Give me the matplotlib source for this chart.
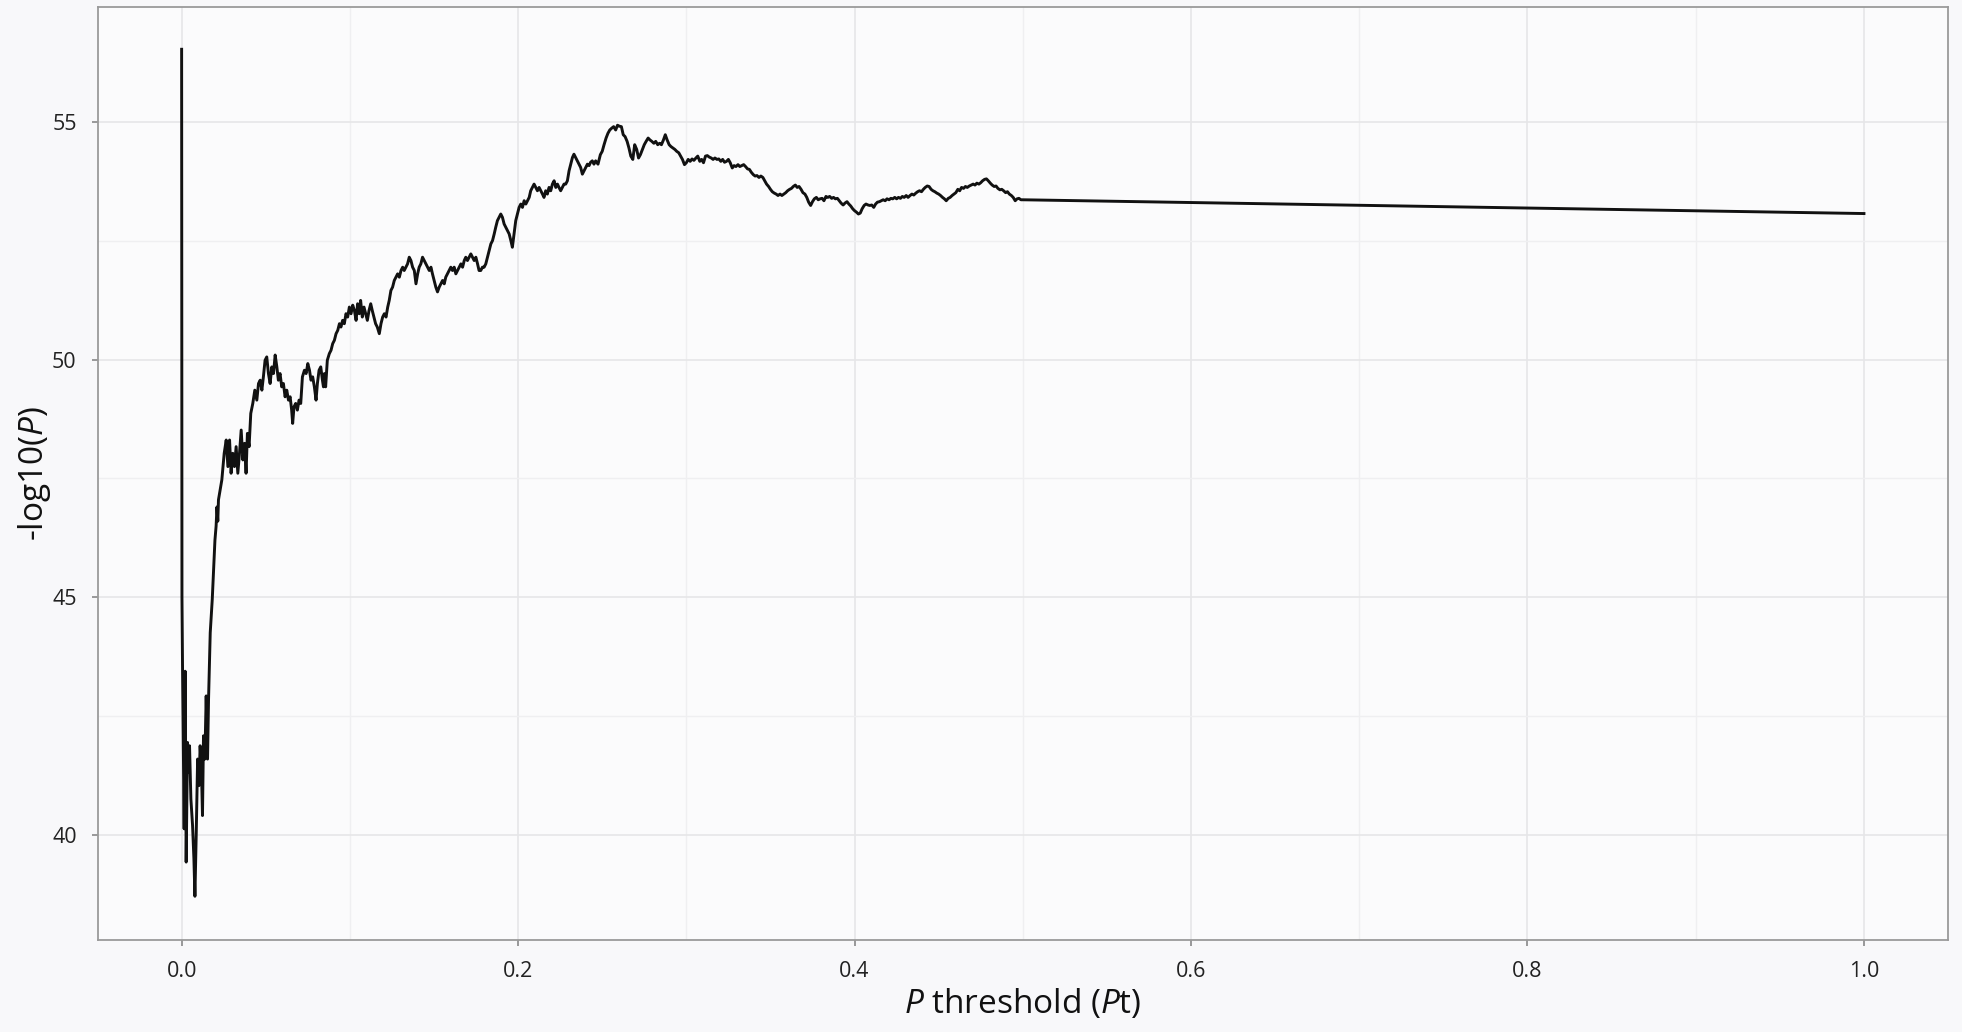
import matplotlib
matplotlib.use("Agg")
import matplotlib.pyplot as plt
import numpy as np

# P threshold (Pt) vs -log10(P)
# steep drop right after Pt = 0
pt_drop = [0.0, 0.0001, 0.0002, 0.00055, 0.0015, 0.0021, 0.0027, 0.0035, 0.0041,
           0.0047, 0.0055, 0.0065, 0.0073, 0.0079, 0.0087, 0.0095, 0.0103, 0.0110,
           0.0118, 0.0124, 0.0130, 0.0138, 0.0146, 0.0154, 0.0160, 0.0170, 0.0182,
           0.0190, 0.0198, 0.0205, 0.0210, 0.0215]
logp_drop = [56.54, 48.5, 45.0, 43.48, 40.12, 43.44, 39.42, 41.94, 41.31,
             41.87, 40.75, 40.19, 39.49, 38.70, 40.05, 41.59, 41.03, 41.87,
             41.31, 40.40, 42.08, 41.59, 42.92, 41.59, 42.85, 44.25, 44.95,
             45.6, 46.2, 46.5, 46.9, 46.6]

# recovery up to the first peak
pt_rise = [0.0219, 0.0239, 0.0253, 0.0265, 0.0275, 0.0285, 0.0294, 0.0304, 0.0314, 0.0324,
           0.0334, 0.0344, 0.0354, 0.0364, 0.0374, 0.0383, 0.0391, 0.0401, 0.0411, 0.0423,
           0.0435, 0.0447, 0.0457, 0.0467, 0.0477, 0.0486, 0.0496, 0.0506, 0.0516, 0.0526,
           0.0536, 0.0546, 0.0556, 0.0566, 0.0575, 0.0585, 0.0595, 0.0605, 0.0615, 0.0625,
           0.0635, 0.0645, 0.0654, 0.0660, 0.0668, 0.0678, 0.0688, 0.0698, 0.0708, 0.0718,
           0.0730, 0.0740, 0.0750, 0.0760, 0.0769, 0.0779, 0.0789, 0.0799, 0.0807, 0.0817,
           0.0827, 0.0837, 0.0843, 0.0849, 0.0856, 0.0866, 0.0878, 0.0888, 0.0898, 0.0908,
           0.0918, 0.0928, 0.0938, 0.0947, 0.0957, 0.0967, 0.0977, 0.0987, 0.0997, 0.1007,
           0.1017, 0.1027, 0.1037, 0.1046, 0.1056, 0.1064, 0.1074, 0.1084, 0.1094, 0.1104,
           0.1114, 0.1124, 0.1133, 0.1143, 0.1153, 0.1163, 0.1175, 0.1185, 0.1195, 0.1205,
           0.1215, 0.1225, 0.1234, 0.1244, 0.1254, 0.1264, 0.1274, 0.1284, 0.1294, 0.1304,
           0.1314, 0.1323, 0.1333, 0.1343, 0.1353, 0.1363, 0.1373, 0.1383, 0.1393, 0.1403,
           0.1412, 0.1422, 0.1432, 0.1442, 0.1452, 0.1462, 0.1472, 0.1482, 0.1491, 0.1501,
           0.1511, 0.1521, 0.1531, 0.1541, 0.1551, 0.1561, 0.1570, 0.1580, 0.1590, 0.1600,
           0.1610, 0.1620, 0.1630, 0.1640, 0.1650, 0.1660, 0.1670, 0.1680, 0.1689, 0.1699,
           0.1709, 0.1719, 0.1729, 0.1739, 0.1749, 0.1759, 0.1768, 0.1778, 0.1788, 0.1798,
           0.1808, 0.1818, 0.1828, 0.1838, 0.1848, 0.1858, 0.1867, 0.1877, 0.1887, 0.1897,
           0.1907, 0.1917, 0.1927, 0.1937, 0.1947, 0.1957, 0.1966, 0.1976, 0.1986, 0.1996,
           0.2006, 0.2016, 0.2026, 0.2036, 0.2046, 0.2056, 0.2066, 0.2075, 0.2085, 0.2095,
           0.2105, 0.2115, 0.2125, 0.2135, 0.2145, 0.2154, 0.2164, 0.2174, 0.2184, 0.2194,
           0.2204, 0.2214, 0.2224, 0.2234, 0.2243, 0.2253, 0.2263, 0.2273, 0.2283, 0.2293,
           0.2303, 0.2313, 0.2323, 0.2332, 0.2342, 0.2352, 0.2362, 0.2372, 0.2382, 0.2392,
           0.2402, 0.2412, 0.2422, 0.2431, 0.2441, 0.2451, 0.2461, 0.2475]
logp_rise = [47.05, 47.47, 48.03, 48.31, 47.75, 48.31, 47.61, 48.03, 47.75, 48.17,
             47.61, 48.03, 48.52, 47.89, 48.24, 47.61, 48.45, 48.17, 48.87, 49.08,
             49.36, 49.15, 49.50, 49.57, 49.36, 49.64, 49.99, 50.06, 49.71, 49.50,
             49.85, 49.71, 50.10, 49.85, 49.57, 49.71, 49.43, 49.50, 49.22, 49.36,
             49.15, 49.22, 48.94, 48.66, 49.01, 49.08, 48.94, 49.15, 49.08, 49.64,
             49.78, 49.71, 49.92, 49.78, 49.57, 49.64, 49.43, 49.15, 49.50, 49.78,
             49.85, 49.57, 49.43, 49.71, 49.43, 49.99, 50.13, 50.20, 50.34, 50.41,
             50.55, 50.62, 50.76, 50.69, 50.83, 50.76, 50.97, 50.90, 51.11, 50.97,
             51.15, 51.04, 50.83, 51.18, 50.97, 51.25, 50.90, 51.11, 50.97, 50.83,
             51.04, 51.18, 51.04, 50.90, 50.76, 50.69, 50.55, 50.76, 50.90, 50.97,
             50.90, 51.11, 51.25, 51.46, 51.53, 51.67, 51.74, 51.81, 51.74, 51.88,
             51.95, 51.88, 51.95, 52.02, 52.16, 52.09, 51.95, 51.88, 51.60, 51.81,
             51.95, 52.02, 52.16, 52.09, 52.02, 51.95, 51.88, 51.95, 51.81, 51.67,
             51.53, 51.43, 51.53, 51.60, 51.67, 51.60, 51.74, 51.81, 51.88, 51.95,
             51.88, 51.95, 51.81, 51.88, 51.95, 52.02, 51.95, 52.09, 52.16, 52.09,
             52.16, 52.23, 52.16, 52.09, 52.16, 52.02, 51.88, 51.88, 51.95, 51.95,
             52.02, 52.16, 52.30, 52.44, 52.51, 52.65, 52.79, 52.93, 53.00, 53.07,
             53.00, 52.86, 52.79, 52.72, 52.65, 52.51, 52.37, 52.65, 52.93, 53.07,
             53.21, 53.28, 53.21, 53.35, 53.28, 53.35, 53.42, 53.56, 53.63, 53.70,
             53.63, 53.56, 53.63, 53.56, 53.49, 53.42, 53.56, 53.49, 53.63, 53.56,
             53.70, 53.77, 53.63, 53.70, 53.63, 53.56, 53.63, 53.70, 53.70, 53.77,
             53.98, 54.12, 54.26, 54.33, 54.26, 54.19, 54.12, 54.05, 53.91, 53.98,
             54.05, 54.12, 54.09, 54.16, 54.19, 54.12, 54.19, 54.12]

# maximum and slow decline until Pt = 0.5
pt_peak = [0.2489, 0.2500, 0.2511, 0.2523, 0.2534, 0.2545, 0.2557, 0.2568, 0.2580, 0.2591,
           0.2602, 0.2614, 0.2625, 0.2636, 0.2648, 0.2659, 0.2670, 0.2682, 0.2693, 0.2705,
           0.2716, 0.2727, 0.2739, 0.2750, 0.2761, 0.2773, 0.2784, 0.2795, 0.2807, 0.2818,
           0.2830, 0.2841, 0.2852, 0.2864, 0.2875, 0.2886, 0.2898, 0.2909, 0.2920, 0.2932,
           0.2943, 0.2955, 0.2966, 0.2977, 0.2989, 0.3000, 0.3011, 0.3023, 0.3034, 0.3045,
           0.3057, 0.3068, 0.3080, 0.3091, 0.3102, 0.3114, 0.3125, 0.3136, 0.3148, 0.3159,
           0.3170, 0.3182, 0.3193, 0.3205, 0.3216, 0.3227, 0.3239, 0.3250, 0.3261, 0.3273,
           0.3284, 0.3295, 0.3307, 0.3318, 0.3330, 0.3341, 0.3352, 0.3364, 0.3375, 0.3386,
           0.3398, 0.3409, 0.3420, 0.3432, 0.3443, 0.3455, 0.3466, 0.3477, 0.3489, 0.3500,
           0.3511, 0.3523, 0.3534, 0.3545, 0.3557, 0.3568, 0.3580, 0.3591, 0.3602, 0.3614,
           0.3625, 0.3636, 0.3648, 0.3659, 0.3670, 0.3682, 0.3693, 0.3705, 0.3716, 0.3727,
           0.3739, 0.3750, 0.3761, 0.3773, 0.3784, 0.3795, 0.3807, 0.3818, 0.3830, 0.3841,
           0.3852, 0.3864, 0.3875, 0.3886, 0.3898, 0.3909, 0.3920, 0.3932, 0.3943, 0.3955,
           0.3966, 0.3977, 0.3989, 0.4000, 0.4011, 0.4023, 0.4034, 0.4045, 0.4057, 0.4068,
           0.4080, 0.4091, 0.4102, 0.4114, 0.4125, 0.4136, 0.4148, 0.4159, 0.4170, 0.4182,
           0.4193, 0.4205, 0.4216, 0.4227, 0.4239, 0.4250, 0.4261, 0.4273, 0.4284, 0.4295,
           0.4307, 0.4318, 0.4330, 0.4341, 0.4352, 0.4364, 0.4375, 0.4386, 0.4398, 0.4409,
           0.4420, 0.4432, 0.4443, 0.4455, 0.4466, 0.4477, 0.4489, 0.4500, 0.4511, 0.4523,
           0.4534, 0.4545, 0.4557, 0.4568, 0.4580, 0.4591, 0.4602, 0.4614, 0.4625, 0.4636,
           0.4648, 0.4659, 0.4670, 0.4682, 0.4693, 0.4705, 0.4716, 0.4727, 0.4739, 0.4750,
           0.4761, 0.4773, 0.4784, 0.4795, 0.4807, 0.4818, 0.4830, 0.4841, 0.4852, 0.4864,
           0.4875, 0.4886, 0.4898, 0.4909, 0.4920, 0.4932, 0.4943, 0.4955, 0.4966, 0.4977,
           0.4989, 0.5000]
logp_peak = [54.32, 54.39, 54.53, 54.67, 54.77, 54.84, 54.88, 54.91, 54.84, 54.94,
             54.92, 54.91, 54.74, 54.70, 54.60, 54.46, 54.29, 54.22, 54.53, 54.43,
             54.25, 54.32, 54.43, 54.53, 54.60, 54.67, 54.63, 54.60, 54.56, 54.60,
             54.53, 54.56, 54.53, 54.63, 54.74, 54.63, 54.53, 54.49, 54.46, 54.43,
             54.39, 54.36, 54.29, 54.22, 54.11, 54.15, 54.22, 54.18, 54.23, 54.20,
             54.25, 54.29, 54.18, 54.22, 54.15, 54.29, 54.30, 54.27, 54.25, 54.22,
             54.25, 54.22, 54.23, 54.18, 54.22, 54.16, 54.18, 54.22, 54.15, 54.04,
             54.09, 54.07, 54.11, 54.07, 54.09, 54.11, 54.07, 54.02, 54.01, 53.95,
             53.90, 53.87, 53.88, 53.84, 53.87, 53.84, 53.77, 53.70, 53.65, 53.59,
             53.54, 53.51, 53.49, 53.46, 53.49, 53.46, 53.49, 53.52, 53.56, 53.59,
             53.61, 53.65, 53.68, 53.63, 53.65, 53.59, 53.52, 53.49, 53.42, 53.32,
             53.25, 53.33, 53.39, 53.42, 53.37, 53.39, 53.40, 53.35, 53.44, 53.42,
             53.44, 53.40, 53.42, 53.39, 53.40, 53.35, 53.30, 53.26, 53.30, 53.33,
             53.28, 53.24, 53.18, 53.14, 53.11, 53.07, 53.09, 53.18, 53.25, 53.28,
             53.26, 53.25, 53.26, 53.21, 53.28, 53.32, 53.33, 53.35, 53.37, 53.35,
             53.39, 53.37, 53.40, 53.39, 53.42, 53.39, 53.42, 53.40, 53.44, 53.42,
             53.46, 53.42, 53.46, 53.49, 53.47, 53.51, 53.54, 53.56, 53.54, 53.59,
             53.63, 53.66, 53.65, 53.59, 53.56, 53.54, 53.51, 53.49, 53.46, 53.42,
             53.39, 53.35, 53.40, 53.42, 53.46, 53.49, 53.52, 53.59, 53.56, 53.63,
             53.61, 53.65, 53.63, 53.66, 53.68, 53.70, 53.68, 53.72, 53.70, 53.73,
             53.77, 53.80, 53.81, 53.77, 53.72, 53.68, 53.65, 53.66, 53.61, 53.58,
             53.59, 53.56, 53.52, 53.54, 53.49, 53.46, 53.42, 53.35, 53.39, 53.40,
             53.37, 53.37]

# last threshold
pt_tail = [1.0]
logp_tail = [53.08]

pt = pt_drop + pt_rise + pt_peak + pt_tail
logp = logp_drop + logp_rise + logp_peak + logp_tail

plt.rcParams['font.family'] = ['Open Sans', 'DejaVu Sans']
plt.rcParams['mathtext.fontset'] = 'custom'
plt.rcParams['mathtext.rm'] = 'Open Sans'
plt.rcParams['mathtext.it'] = 'Open Sans:italic'

fig = plt.figure(figsize=(19.62, 10.32), dpi=100, facecolor='#f8f8fa')
ax = fig.add_axes([0.0497, 0.0892, 0.9432, 0.904])
ax.set_facecolor('#fbfbfc')

ax.plot(pt, logp, color='#111111', lw=2.1, zorder=3)

ax.set_xlim(-0.05, 1.05)
ax.set_ylim(37.78, 57.43)
ax.set_xticks([0.0, 0.2, 0.4, 0.6, 0.8, 1.0])
ax.set_xticklabels(['0.0', '0.2', '0.4', '0.6', '0.8', '1.0'])
ax.set_yticks([40, 45, 50, 55])
ax.set_xticks(np.arange(0.1, 1.0, 0.2), minor=True)
ax.set_yticks([42.5, 47.5, 52.5], minor=True)

ax.grid(which='major', color='#e6e6e8', lw=1.2, zorder=0)
ax.grid(which='minor', color='#efeff1', lw=1.0, zorder=0)
ax.tick_params(which='major', length=4, width=1.2, color='#888888',
               labelsize=15.5, labelcolor='#222222', pad=11)
ax.tick_params(which='minor', length=0)
for s in ax.spines.values():
    s.set_color('#9a9a9a')
    s.set_linewidth(1.3)

ax.set_xlabel(r'$P$ threshold ($P$t)', fontsize=24, color='#111111')
ax.set_ylabel(r'-log10($P$)', fontsize=24, color='#111111')
ax.xaxis.set_label_coords(0.5, -0.050)
ax.yaxis.set_label_coords(-0.0241, 0.5)

fig.savefig('out.png', dpi=100, facecolor=fig.get_facecolor())
